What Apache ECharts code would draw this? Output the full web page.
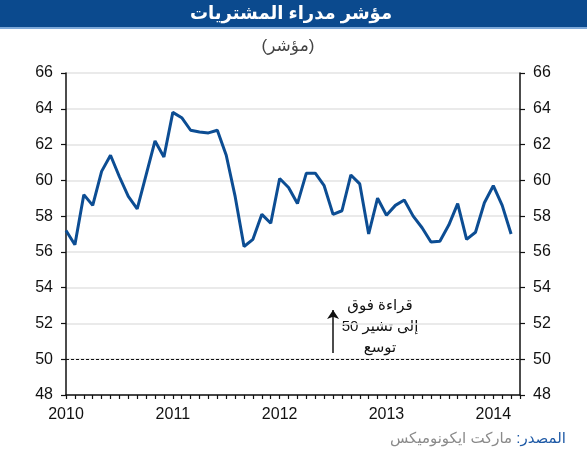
<!DOCTYPE html>
<html>
<head>
<meta charset="utf-8">
<script src="https://cdn.jsdelivr.net/npm/echarts@6/dist/echarts.min.js"></script>
<style>
  html, body { margin: 0; padding: 0; background: #fff; }
  #chart { width: 587px; height: 450px; }
</style>
</head>
<body>
<div id="chart"></div>
<script>
// monthly categories Jan 2010 .. Apr 2014 (axis runs one month past the last reading)
var years = ['2010', '2011', '2012', '2013', '2014']
var months = []
years.forEach(function (y) {
  for (var m = 1; m <= 12; m++) {
    if (y === '2014' && m > 4) break
    months.push(y + '-' + (m < 10 ? '0' + m : m))
  }
})

// PMI readings
var pmi = [
  57.2, 56.4, 59.2, 58.6, 60.5, 61.4, 60.2, 59.1, 58.4, 60.3, 62.2, 61.3,
  63.8, 63.5, 62.8, 62.7, 62.65, 62.8, 61.4, 59.1, 56.3, 56.7, 58.1, 57.6,
  60.1, 59.6, 58.7, 60.4, 60.4, 59.7, 58.1, 58.3, 60.3, 59.8, 57.0, 59.0,
  58.05, 58.6, 58.9, 58.0, 57.35, 56.55, 56.6, 57.5, 58.7, 56.7, 57.1, 58.75,
  59.7, 58.6, 57.0
]

var yTicks = [48, 66, 2] // min, max, step
var threshold = 50
var arrowMonth = '2012-07'

var titleText = 'مؤشر مدراء المشتريات'
var unitText = '(مؤشر)'
var noteText = 'قراءة فوق\n50 إلى تشير\nتوسع'
var sourceLabel = ':المصدر'
var sourceName = 'ماركت ايكونوميكس'

var FONT = '"Liberation Sans", Arial, "DejaVu Sans", sans-serif'

var chart = echarts.init(document.getElementById('chart'))

var yAxisBase = {
  type: 'value',
  min: yTicks[0],
  max: yTicks[1],
  interval: yTicks[2],
  axisLine: { show: true, lineStyle: { color: '#111', width: 1.5 } },
  axisTick: { show: true, length: 5, lineStyle: { color: '#111', width: 1.2 } },
  axisLabel: { fontSize: 16, color: '#111', fontFamily: FONT, margin: 13 }
}

var option = {
  animation: false,
  textStyle: { fontFamily: FONT },
  grid: { left: 66, right: 67, top: 73, bottom: 55 },
  graphic: [
    { type: 'rect', shape: { x: 0, y: 0, width: 587, height: 27 }, style: { fill: '#0b4a8e' } },
    { type: 'rect', shape: { x: 0, y: 27, width: 587, height: 2 }, style: { fill: '#7ea9d9' } },
    {
      type: 'text', x: 291, y: 14,
      style: { text: titleText, fill: '#fff', font: 'bold 18px ' + FONT, textAlign: 'center', textVerticalAlign: 'middle' }
    },
    {
      type: 'text', x: 288, y: 46,
      style: { text: unitText, fill: '#444', font: '17px ' + FONT, textAlign: 'center', textVerticalAlign: 'middle' }
    },
    {
      type: 'text', x: 380, y: 295,
      style: { text: noteText, fill: '#111', font: '15px ' + FONT, textAlign: 'center', lineHeight: 21 }
    },
    {
      type: 'text', x: 566, y: 439,
      style: {
        text: '{g|' + sourceName + ' }{b|' + sourceLabel + '}',
        textAlign: 'right', textVerticalAlign: 'middle',
        rich: {
          g: { fill: '#8a8a8a', fontSize: 15, fontFamily: FONT },
          b: { fill: '#1f5aa6', fontSize: 15, fontFamily: FONT }
        }
      }
    }
  ],
  xAxis: {
    type: 'category',
    boundaryGap: false,
    data: months,
    axisLine: { lineStyle: { color: '#111', width: 1.5 } },
    axisTick: { show: true, interval: 0, length: 4, lineStyle: { color: '#111', width: 1.2 } },
    axisLabel: {
      interval: function (i) { return i % 12 === 0 },
      formatter: function (v) { return v.slice(0, 4) },
      fontSize: 16, color: '#111', fontFamily: FONT, margin: 12
    },
    splitLine: { show: false }
  },
  yAxis: [
    Object.assign({}, yAxisBase, {
      position: 'left',
      splitLine: { show: true, lineStyle: { color: '#e3e3e3', width: 1.5 } }
    }),
    Object.assign({}, yAxisBase, {
      position: 'right',
      splitLine: { show: false }
    })
  ],
  series: [
    {
      type: 'line',
      data: pmi,
      showSymbol: false,
      lineStyle: { color: '#0c4d93', width: 3 },
      itemStyle: { color: '#0c4d93' },
      markLine: {
        silent: true,
        label: { show: false },
        data: [
          [
            { coord: [0, threshold], symbol: 'none', lineStyle: { color: '#111', type: [3, 2], width: 1.2 } },
            { coord: [months.length - 1, threshold], symbol: 'none' }
          ],
          [
            { coord: [arrowMonth, 50.35], symbol: 'none', lineStyle: { color: '#111', type: 'solid', width: 1.5 } },
            { coord: [arrowMonth, 52.75], symbol: 'arrow', symbolSize: [9, 9] }
          ]
        ]
      }
    }
  ]
}

chart.setOption(option)
</script>
</body>
</html>
